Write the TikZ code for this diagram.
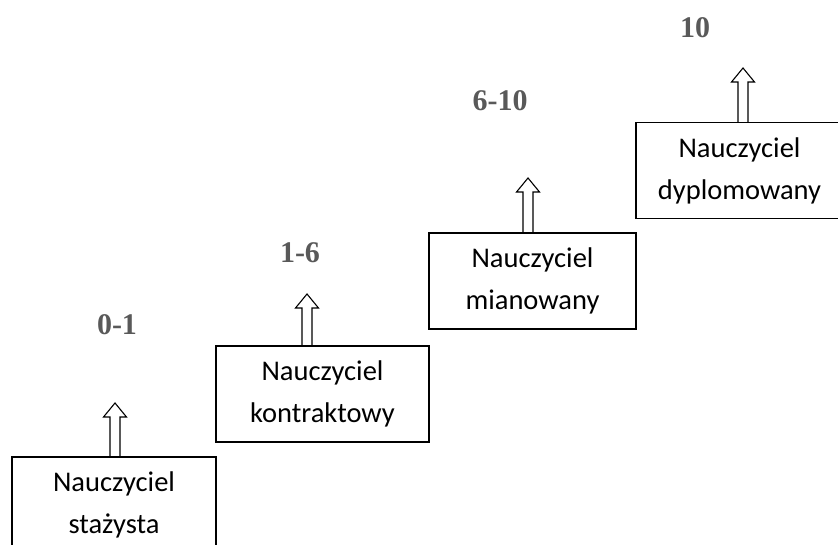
\documentclass[tikz,border=0pt]{standalone}
\usepackage{fontspec}
\setmainfont{Carlito}
\newfontfamily\labelfont{Liberation Serif}
\usetikzlibrary{calc}
\definecolor{labelgray}{HTML}{595959}
\tikzset{
  level/.style={draw, line width=1.4pt, rectangle, inner sep=0pt, align=center,
    font=\fontsize{28.5}{42}\selectfont, minimum height=96pt},
  yearslabel/.style={font=\labelfont\bfseries\fontsize{30}{31}\selectfont,
    text=labelgray, inner sep=0pt},
  hollow/.style={draw, line width=1.1pt, line join=miter}
}
% hollow block arrow from the top of a box up to a tip coordinate
\newcommand{\blockarrow}[2]{%
  \draw[hollow] let \p1=(#2 |- #1.north), \p2=(#2) in
    ({\x1-5pt},\y1) -- ({\x1-5pt},{\y2-14pt}) -- ({\x1-11.5pt},{\y2-14pt})
    -- (\p2) -- ({\x1+11.5pt},{\y2-14pt}) -- ({\x1+5pt},{\y2-14pt})
    -- ({\x1+5pt},\y1);}

\begin{document}
\begin{tikzpicture}[x=1pt,y=-1pt]
\useasboundingbox (0,0) rectangle (838,544);
\begin{scope}
\clip (0,0) rectangle (838,544);

% career levels
\node[level, minimum width=204pt] (b1) at (114,505) {Nauczyciel\\stażysta};
\node[level, minimum width=213pt] (b2) at (322.5,394) {Nauczyciel\\kontraktowy};
\node[level, minimum width=207pt] (b3) at (532.5,281) {Nauczyciel\\mianowany};
\node[level, minimum width=207pt] (b4) at (739.5,170.5) {Nauczyciel\\dyplomowany};

% arrow tips
\coordinate (t1) at (115,403);
\coordinate (t2) at (307,294);
\coordinate (t3) at (528,178);
\coordinate (t4) at (743,68);

\blockarrow{b1}{t1}
\blockarrow{b2}{t2}
\blockarrow{b3}{t3}
\blockarrow{b4}{t4}

% years of service
\node[yearslabel] (l1) at (117,325) {0-1};
\node[yearslabel] (l2) at (300,253) {1-6};
\node[yearslabel] (l3) at (500,101) {6-10};
\node[yearslabel] (l4) at (695,28) {10};
\end{scope}
\end{tikzpicture}
\end{document}
